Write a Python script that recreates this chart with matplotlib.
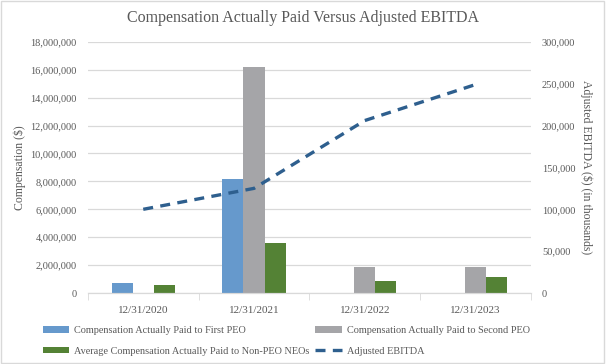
import matplotlib
matplotlib.use('Agg')

import matplotlib.pyplot as plt
import matplotlib.ticker as mticker
from matplotlib.patches import Rectangle
import numpy as np

years = ["12/31/2020", "12/31/2021", "12/31/2022", "12/31/2023"]
first_peo = [700000, 8180000, 0, 0]
second_peo = [0, 16200000, 1860000, 1860000]
non_peo_neos = [600000, 3590000, 860000, 1150000]
adj_ebitda = [100000, 125000, 206000, 249000]

text_color = "#595959"
grid_color = "#D9D9D9"
plt.rcParams['font.family'] = ['Liberation Serif', 'DejaVu Serif']

fig = plt.figure(figsize=(6.06, 3.64), dpi=100)
ax = fig.add_axes([0.145, 0.195, 0.731, 0.69])
ax2 = ax.twinx()

x = np.arange(len(years))
w = 0.19
b1 = ax.bar(x - w, first_peo, w, color="#6699CC", zorder=2)
b2 = ax.bar(x, second_peo, w, color="#A5A5A8", zorder=2)
b3 = ax.bar(x + w, non_peo_neos, w, color="#548235", zorder=2)
ln, = ax2.plot(x, adj_ebitda, color="#2E5F8E", lw=2.4, ls=(0, (3, 2.2)))

ax.set_xlim(-0.5, 3.5)
ax.set_ylim(0, 18000000)
ax2.set_ylim(0, 300000)
ax.yaxis.set_major_locator(mticker.MultipleLocator(2000000))
ax2.yaxis.set_major_locator(mticker.MultipleLocator(50000))
ax.yaxis.set_major_formatter(mticker.StrMethodFormatter("{x:,.0f}"))
ax2.yaxis.set_major_formatter(mticker.StrMethodFormatter("{x:,.0f}"))
ax.grid(axis="y", color=grid_color, lw=0.9, zorder=0)
ax.set_axisbelow(True)

ax.set_xticks(x)
ax.set_xticklabels(years)
ax.set_xticks(np.arange(-0.5, 4, 1), minor=True)
ax.tick_params(axis="x", which="major", length=0, pad=9, labelsize=8, labelcolor=text_color)
ax.tick_params(axis="x", which="minor", length=5, color=grid_color, direction="out")
ax.tick_params(axis="y", length=0, pad=8, labelsize=7.5, labelcolor=text_color)
ax2.tick_params(axis="y", length=0, pad=8, labelsize=7.5, labelcolor=text_color)

for a in (ax, ax2):
    for s in ("top", "left", "right"):
        a.spines[s].set_visible(False)
    a.spines["bottom"].set_color(grid_color)

ax.set_ylabel("Compensation ($)", color=text_color, fontsize=8.5, labelpad=3)
ax2.set_ylabel("Adjusted EBITDA ($) (in thousands)", color=text_color, fontsize=8.5,
               rotation=270, labelpad=12)

fig.suptitle("Compensation Actually Paid Versus Adjusted EBITDA", y=0.972,
             fontsize=11.5, color=text_color)

handles = [b1, b3, b2, ln]
labels = ["Compensation Actually Paid to First PEO",
          "Average Compensation Actually Paid to Non-PEO NEOs",
          "Compensation Actually Paid to Second PEO",
          "Adjusted EBITDA"]
leg = fig.legend(handles, labels, ncol=2, loc="upper left", bbox_to_anchor=(0.055, 0.13),
                 frameon=False, fontsize=7.4, labelcolor=text_color, handlelength=2.6,
                 handleheight=0.6, columnspacing=0.5, handletextpad=0.5, labelspacing=1.15)

fig.patches.append(Rectangle((0.002, 0.003), 0.995, 0.993, transform=fig.transFigure,
                             fill=False, edgecolor=grid_color, lw=1))

fig.savefig("out.png", dpi=100)
plt.close()
